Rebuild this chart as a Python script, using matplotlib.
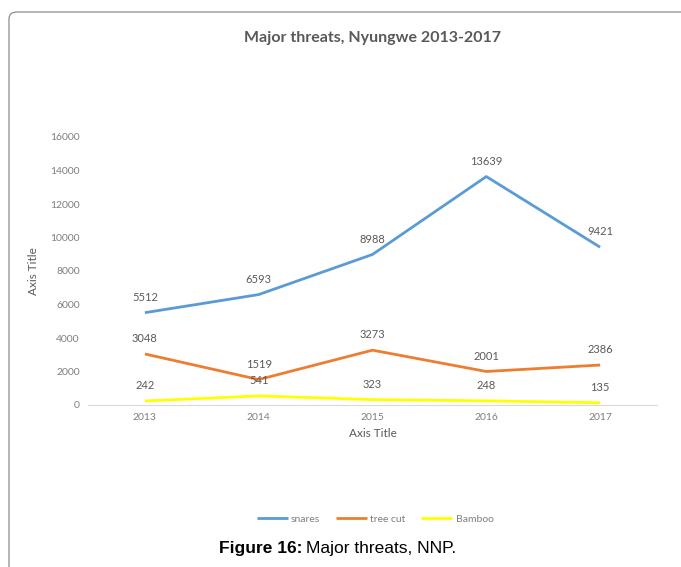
import matplotlib
matplotlib.use("Agg")
import matplotlib.pyplot as plt
from matplotlib.patches import FancyBboxPatch
from matplotlib.transforms import offset_copy

years = ["2013", "2014", "2015", "2016", "2017"]
snares = [5512, 6593, 8988, 13639, 9421]
tree_cut = [3048, 1519, 3273, 2001, 2386]
bamboo = [242, 541, 323, 248, 135]
y_ticks = [0, 2000, 4000, 6000, 8000, 10000, 12000, 14000, 16000]

plt.rcParams['font.family'] = ['Lato', 'DejaVu Sans']
grey = '#595959'
light = '#7f7f7f'

fig = plt.figure(figsize=(6.81, 5.67), dpi=100)

# chart frame (right/bottom edges fall outside the image)
frame = FancyBboxPatch((9 / 681, -0.2), 1.0, 1.2 - 12 / 567,
                       boxstyle="round,pad=0,rounding_size=0.012",
                       transform=fig.transFigure, fill=False,
                       edgecolor='#8c8c8c', linewidth=0.9)
fig.patches.append(frame)

ax = fig.add_axes([88 / 681, 1 - 405 / 567, (657 - 88) / 681, (405 - 137) / 567])
x = list(range(len(years)))
series = [(snares, '#5B9BD5', 'snares'),
          (tree_cut, '#ED7D31', 'tree cut'),
          (bamboo, '#FFFF00', 'Bamboo')]
for vals, col, name in series:
    ax.plot(x, vals, color=col, linewidth=2, label=name, solid_capstyle='butt')
    for xi, v in zip(x, vals):
        ax.annotate(str(v), (xi, v), xytext=(0, 7), textcoords='offset points',
                    ha='center', va='bottom', fontsize=8, color=grey)

ax.set_xlim(-0.5, len(years) - 0.5)
ax.set_ylim(0, 16000)
ax.set_xticks(x)
ax.set_xticklabels(years)
ax.set_yticks(y_ticks)
ax.tick_params(length=0, labelsize=7.5, labelcolor=light, pad=6)
for s in ['top', 'right', 'left']:
    ax.spines[s].set_visible(False)
ax.spines['bottom'].set_color('#d9d9d9')
ax.set_xlabel("Axis Title", fontsize=8.5, color=grey, labelpad=4)
ax.set_ylabel("Axis Title", fontsize=8.5, color=grey, labelpad=8)

fig.text(372 / 681, 1 - 38 / 567, "Major threats, Nyungwe 2013-2017",
         ha='center', va='center', fontsize=11.5, color=grey, fontweight='bold')

fig.legend(loc='center', bbox_to_anchor=(375 / 681, 1 - 519 / 567), ncol=3,
           frameon=False, fontsize=7.5, labelcolor=light, handlelength=3,
           columnspacing=1.5, handletextpad=0.3)

# caption: bold part then regular part
cap_bold = fig.text(219 / 681, 1 - 549 / 567, "Figure 16:", ha='left', va='center',
                    fontsize=12.5, family='Liberation Sans', fontweight='bold')
fig.canvas.draw()
bb = cap_bold.get_window_extent()
fig.text(bb.x1 / fig.bbox.width + 4 / 681, 1 - 549 / 567, "Major threats, NNP.",
         ha='left', va='center', fontsize=12.5, family='Liberation Sans')

fig.savefig("out.png", dpi=100)
